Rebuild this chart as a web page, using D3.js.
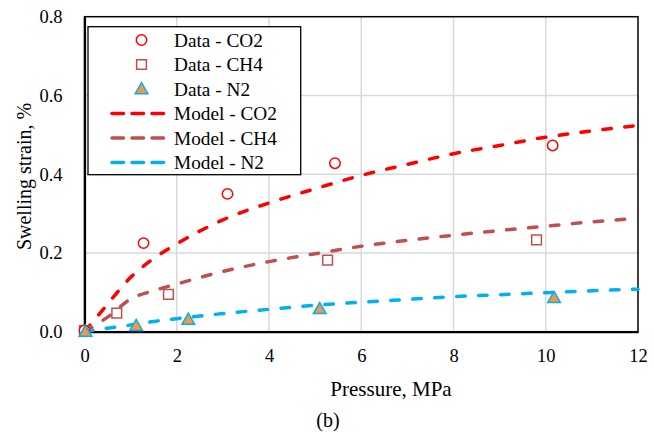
<!DOCTYPE html>
<html>
<head>
<meta charset="utf-8">
<script src="https://cdn.jsdelivr.net/npm/d3@7"></script>
<style>
  body { margin: 0; background: #fff; }
  svg { display: block; }
  svg text { font-family: "Liberation Serif", "DejaVu Serif", serif !important; fill: #000; }
</style>
</head>
<body>
<svg id="chart" width="654" height="433"></svg>
<script>
// measured data (pressure MPa, swelling strain %)
const pressureCO2 = [0.0, 1.28, 3.1, 5.43, 10.15];
const strainCO2 = [0.003, 0.225, 0.35, 0.428, 0.473];
const pressureCH4 = [0.0, 0.7, 1.82, 5.27, 9.8];
const strainCH4 = [0.003, 0.047, 0.095, 0.182, 0.233];
const pressureN2 = [0.02, 1.12, 2.25, 5.1, 10.18];
const strainN2 = [0.0, 0.015, 0.031, 0.058, 0.086];

// model curves
const modelP = [0, 0.5, 1, 1.5, 2, 3, 4, 5, 6, 7, 8, 9, 10, 11, 12];
const modelCO2 = [0, 0.07, 0.138, 0.186, 0.223, 0.284, 0.327, 0.363, 0.397, 0.425, 0.452, 0.473, 0.494, 0.51, 0.524];
const modelCH4 = [0, 0.037, 0.083, 0.104, 0.121, 0.153, 0.178, 0.198, 0.217, 0.232, 0.245, 0.257, 0.268, 0.279, 0.288];
const modelN2 = [0, 0.009, 0.017, 0.026, 0.033, 0.046, 0.057, 0.067, 0.075, 0.082, 0.089, 0.094, 0.099, 0.104, 0.108];

const xTicks = [0, 2, 4, 6, 8, 10, 12];
const yTicks = [0, 0.2, 0.4, 0.6, 0.8];

const red = "#ff0000", brown = "#c0504d", blue = "#00b0f0", orange = "#f79646";

const svg = d3.select("#chart");
const m = { left: 84.5, right: 638, top: 16.7, bottom: 331.7 };

const x = d3.scaleLinear().domain([0, 12]).range([m.left, m.right]);
const y = d3.scaleLinear().domain([0, 0.8]).range([m.bottom, m.top]);

// grid
svg.append("g").selectAll("line").data(xTicks.slice(1, -1))
    .join("line")
    .attr("x1", d => x(d)).attr("x2", d => x(d))
    .attr("y1", m.top).attr("y2", m.bottom)
    .attr("stroke", "#d9d9d9").attr("stroke-width", 1.5);
svg.append("g").selectAll("line").data(yTicks.slice(1, -1))
    .join("line")
    .attr("x1", m.left).attr("x2", m.right)
    .attr("y1", d => y(d)).attr("y2", d => y(d))
    .attr("stroke", "#d9d9d9").attr("stroke-width", 1.5);

// frame
svg.append("rect")
    .attr("x", m.left).attr("y", m.top)
    .attr("width", m.right - m.left).attr("height", m.bottom - m.top)
    .attr("fill", "none").attr("stroke", "#000").attr("stroke-width", 1.5);

// axes
const xAxis = svg.append("g")
    .attr("transform", `translate(0,${m.bottom})`)
    .call(d3.axisBottom(x).tickValues(xTicks).tickSize(0).tickPadding(17).tickFormat(d3.format("d")));
xAxis.select(".domain").attr("stroke", "#000").attr("stroke-width", 2.2);
xAxis.selectAll("text").attr("font-size", 18.5);

const yAxis = svg.append("g")
    .attr("transform", `translate(${m.left},0)`)
    .call(d3.axisLeft(y).tickValues(yTicks).tickSize(0).tickPadding(22).tickFormat(d3.format(".1f")));
yAxis.select(".domain").attr("stroke", "#000").attr("stroke-width", 2.2);
yAxis.selectAll("text").attr("font-size", 18.5);

// model lines
const line = d3.line()
    .x(d => x(d[0]))
    .y(d => y(d[1]))
    .curve(d3.curveMonotoneX);

const models = [
    { name: "Model - CO2", values: modelCO2, color: red },
    { name: "Model - CH4", values: modelCH4, color: brown },
    { name: "Model - N2", values: modelN2, color: blue }
];

svg.append("g").selectAll("path").data(models)
    .join("path")
    .attr("d", d => line(modelP.map((p, i) => [p, d.values[i]])))
    .attr("fill", "none")
    .attr("stroke", d => d.color)
    .attr("stroke-width", 3.5)
    .attr("stroke-linecap", "round")
    .attr("stroke-dasharray", "8.5 13.5");

// markers
const sym = (type, size) => d3.symbol().type(type).size(size)();

svg.append("g").selectAll("path")
    .data(pressureCH4.map((p, i) => [p, strainCH4[i]]))
    .join("path")
    .attr("transform", d => `translate(${x(d[0])},${y(d[1])})`)
    .attr("d", sym(d3.symbolSquare, 95))
    .attr("fill", "#fff").attr("stroke", brown).attr("stroke-width", 1.5);

svg.append("g").selectAll("circle")
    .data(pressureCO2.map((p, i) => [p, strainCO2[i]]))
    .join("circle")
    .attr("cx", d => x(d[0])).attr("cy", d => y(d[1]))
    .attr("r", 5.2)
    .attr("fill", "#fff").attr("stroke", red).attr("stroke-width", 1.5);

svg.append("g").selectAll("path")
    .data(pressureN2.map((p, i) => [p, strainN2[i]]))
    .join("path")
    .attr("transform", d => `translate(${x(d[0])},${y(d[1]) + 1})`)
    .attr("d", sym(d3.symbolTriangle, 70))
    .attr("fill", orange).attr("stroke", blue).attr("stroke-width", 1.5);

// legend
const legend = svg.append("g");
legend.append("rect")
    .attr("x", 88).attr("y", 26.7)
    .attr("width", 212.7).attr("height", 148)
    .attr("fill", "#fff").attr("stroke", "#000").attr("stroke-width", 1.3);

const items = [
    { name: "Data - CO2", kind: "circle" },
    { name: "Data - CH4", kind: "square" },
    { name: "Data - N2", kind: "triangle" },
    ...models.map(md => ({ name: md.name, kind: "line", color: md.color }))
];

const rowY = d3.scaleLinear().domain([0, 5]).range([40, 162.5]);
const row = legend.selectAll("g.item").data(items)
    .join("g").attr("class", "item")
    .attr("transform", (d, i) => `translate(0,${rowY(i)})`);

row.filter(d => d.kind === "circle").append("circle")
    .attr("cx", 141.5).attr("cy", 0).attr("r", 5.2)
    .attr("fill", "#fff").attr("stroke", red).attr("stroke-width", 1.5);
row.filter(d => d.kind === "square").append("path")
    .attr("transform", "translate(141.5,0)")
    .attr("d", sym(d3.symbolSquare, 95))
    .attr("fill", "#fff").attr("stroke", brown).attr("stroke-width", 1.5);
row.filter(d => d.kind === "triangle").append("path")
    .attr("transform", "translate(141.5,1)")
    .attr("d", sym(d3.symbolTriangle, 70))
    .attr("fill", orange).attr("stroke", blue).attr("stroke-width", 1.5);
row.filter(d => d.kind === "line").append("line")
    .attr("x1", 112).attr("x2", 170).attr("y1", 0).attr("y2", 0)
    .attr("stroke", d => d.color).attr("stroke-width", 3.5)
    .attr("stroke-linecap", "round")
    .attr("stroke-dasharray", "11.5 8.5");

row.append("text")
    .attr("x", 174).attr("y", 0).attr("dy", "0.35em")
    .attr("font-size", 19.3)
    .text(d => d.name);

// titles
svg.append("text")
    .attr("x", 391).attr("y", 396)
    .attr("text-anchor", "middle").attr("font-size", 21)
    .text("Pressure, MPa");

svg.append("text")
    .attr("transform", "translate(31,176.5) rotate(-90)")
    .attr("text-anchor", "middle").attr("font-size", 20)
    .text("Swelling strain, %");

svg.append("text")
    .attr("x", 328).attr("y", 426.5)
    .attr("text-anchor", "middle").attr("font-size", 20)
    .text("(b)");
</script>
</body>
</html>
